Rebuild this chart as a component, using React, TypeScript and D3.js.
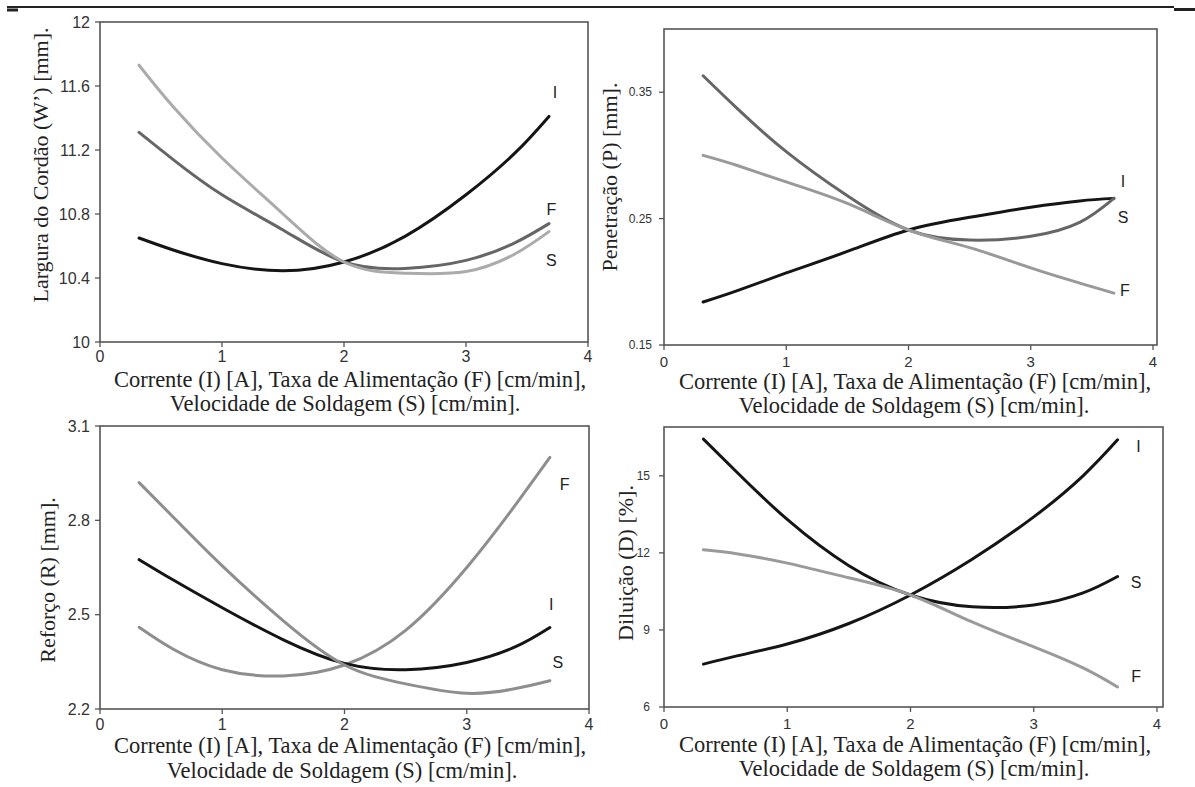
import React from "react";
import * as d3 from "d3";

// ---------- data ----------
const xLevels = [0.32, 0.6, 1, 1.5, 2, 2.5, 3, 3.4, 3.68];
const xTicks = [0, 1, 2, 3, 4];

// Largura do Cordão (W) [mm]
const widthI = [10.65, 10.575, 10.49, 10.445, 10.5, 10.66, 10.92, 11.18, 11.41];
const widthF = [11.31, 11.14, 10.92, 10.7, 10.5, 10.46, 10.51, 10.62, 10.74];
const widthS = [11.73, 11.47, 11.15, 10.8, 10.5, 10.43, 10.44, 10.55, 10.69];
const widthTicks = [10, 10.4, 10.8, 11.2, 11.6, 12];

// Penetração (P) [mm]
const penI = [0.184, 0.193, 0.207, 0.224, 0.241, 0.251, 0.259, 0.264, 0.266];
const penS = [0.363, 0.337, 0.303, 0.268, 0.241, 0.233, 0.236, 0.247, 0.266];
const penF = [0.3, 0.292, 0.279, 0.262, 0.241, 0.227, 0.211, 0.199, 0.191];
const penTicks = [0.15, 0.25, 0.35];

// Reforço (R) [mm]
const refI = [2.675, 2.61, 2.522, 2.42, 2.345, 2.325, 2.348, 2.398, 2.459];
const refF = [2.46, 2.39, 2.325, 2.305, 2.34, 2.45, 2.65, 2.85, 3.0];
const refS = [2.92, 2.81, 2.655, 2.48, 2.34, 2.28, 2.25, 2.265, 2.29];
const refTicks = [2.2, 2.5, 2.8, 3.1];

// Diluição (D) [%]
const dilI = [7.67, 8.0, 8.45, 9.25, 10.36, 11.75, 13.4, 15.0, 16.4];
const dilS = [16.43, 15.1, 13.3, 11.5, 10.36, 9.9, 9.97, 10.44, 11.08];
const dilF = [12.12, 11.96, 11.6, 11.03, 10.36, 9.31, 8.34, 7.52, 6.78];
const dilTicks = [6, 9, 12, 15];

const xTitle1 = "Corrente (I) [A], Taxa de Alimentação (F) [cm/min],";
const xTitle2 = "Velocidade de Soldagem (S) [cm/min].";

// ---------- layout ----------
const SANS = "'Liberation Sans', Arial, Helvetica, sans-serif";
const SERIF = "'Liberation Serif', 'Times New Roman', Times, serif";

type Series = { name: string; values: number[]; color: string; lx: number; ly: number };
type Panel = {
  yTitle: string;
  left: number; right: number; top: number; bottom: number; x4: number;
  yDomain: [number, number];
  yTicks: number[];
  yFont: number; yGap: number; xFont: number; xLabelDy: number;
  yTitleX: number; yTitleY: number;
  t1x: number; t1y: number; t2x: number; t2y: number;
  series: Series[];
  fmt: (v: number) => string;
};

const fmtW = (v: number) => (Number.isInteger(v) ? String(v) : v.toFixed(1));
const fmtP = (v: number) => v.toFixed(2);
const fmtR = (v: number) => v.toFixed(1);
const fmtD = (v: number) => String(v);

const panels: Panel[] = [
  {
    yTitle: "Largura do Cordão (W\u2019) [mm].",
    left: 100, right: 588, top: 22, bottom: 342, x4: 588,
    yDomain: [10, 12], yTicks: widthTicks,
    yFont: 16, yGap: 10, xFont: 16, xLabelDy: 20,
    yTitleX: 48, yTitleY: 165,
    t1x: 350, t1y: 387, t2x: 345, t2y: 411,
    fmt: fmtW,
    series: [
      { name: "I", values: widthI, color: "#151515", lx: 3.73, ly: 11.56 },
      { name: "F", values: widthF, color: "#666666", lx: 3.7, ly: 10.83 },
      { name: "S", values: widthS, color: "#ababab", lx: 3.7, ly: 10.51 },
    ],
  },
  {
    yTitle: "Penetração (P) [mm].",
    left: 664, right: 1157, top: 29, bottom: 345, x4: 1153,
    yDomain: [0.15, 0.4], yTicks: penTicks,
    yFont: 12, yGap: 12, xFont: 15, xLabelDy: 22,
    yTitleX: 617, yTitleY: 177,
    t1x: 915, t1y: 389, t2x: 914, t2y: 413,
    fmt: fmtP,
    series: [
      { name: "I", values: penI, color: "#151515", lx: 3.755, ly: 0.279 },
      { name: "S", values: penS, color: "#666666", lx: 3.755, ly: 0.251 },
      { name: "F", values: penF, color: "#999999", lx: 3.77, ly: 0.1935 },
    ],
  },
  {
    yTitle: "Reforço (R) [mm].",
    left: 100, right: 589, top: 426, bottom: 709, x4: 589,
    yDomain: [2.2, 3.1], yTicks: refTicks,
    yFont: 16, yGap: 10, xFont: 16, xLabelDy: 21,
    yTitleX: 55, yTitleY: 580,
    t1x: 350, t1y: 753, t2x: 342, t2y: 778,
    fmt: fmtR,
    series: [
      { name: "F", values: refF, color: "#8e8e8e", lx: 3.8, ly: 2.913 },
      { name: "I", values: refI, color: "#151515", lx: 3.69, ly: 2.532 },
      { name: "S", values: refS, color: "#8e8e8e", lx: 3.745, ly: 2.348 },
    ],
  },
  {
    yTitle: "Diluição (D) [%].",
    left: 664, right: 1163, top: 427, bottom: 707, x4: 1157,
    yDomain: [6, 16.9], yTicks: dilTicks,
    yFont: 12, yGap: 14, xFont: 15, xLabelDy: 22,
    yTitleX: 633, yTitleY: 563,
    t1x: 915, t1y: 752, t2x: 914, t2y: 776,
    fmt: fmtD,
    series: [
      { name: "I", values: dilI, color: "#151515", lx: 3.85, ly: 16.13 },
      { name: "S", values: dilS, color: "#151515", lx: 3.83, ly: 10.83 },
      { name: "F", values: dilF, color: "#9a9a9a", lx: 3.83, ly: 7.17 },
    ],
  },
];

function PanelView({ p }: { p: Panel }) {
  const x = d3.scaleLinear().domain([0, 4]).range([p.left, p.x4]);
  const y = d3.scaleLinear().domain(p.yDomain).range([p.bottom, p.top]);
  const line = d3
    .line<number>()
    .x((_, i) => x(xLevels[i]))
    .y((v) => y(v))
    .curve(d3.curveNatural);
  const frame = "#555";
  return (
    <g>
      <rect
        x={p.left}
        y={p.top}
        width={p.right - p.left}
        height={p.bottom - p.top}
        fill="none"
        stroke={frame}
        strokeWidth={1.6}
      />
      {p.yTicks.map((t) => (
        <g key={"y" + t}>
          <line x1={p.left - 5} x2={p.left} y1={y(t)} y2={y(t)} stroke={frame} strokeWidth={1.3} />
          <text
            x={p.left - p.yGap}
            y={y(t)}
            textAnchor="end"
            dominantBaseline="central"
            fontFamily={SANS}
            fontSize={p.yFont}
            fill="#333"
          >
            {p.fmt(t)}
          </text>
        </g>
      ))}
      {xTicks.map((t) => (
        <g key={"x" + t}>
          <line x1={x(t)} x2={x(t)} y1={p.bottom} y2={p.bottom + 5} stroke={frame} strokeWidth={1.3} />
          <text
            x={x(t)}
            y={p.bottom + p.xLabelDy}
            textAnchor="middle"
            fontFamily={SANS}
            fontSize={p.xFont}
            fill="#333"
          >
            {t}
          </text>
        </g>
      ))}
      {p.series.map((s) => (
        <path
          key={"s" + s.name}
          d={line(s.values) || ""}
          fill="none"
          stroke={s.color}
          strokeWidth={3}
          strokeLinecap="round"
          strokeLinejoin="round"
        />
      ))}
      {p.series.map((s) => (
        <text
          key={"l" + s.name}
          x={x(s.lx)}
          y={y(s.ly)}
          textAnchor="middle"
          dominantBaseline="central"
          fontFamily={SANS}
          fontSize={16}
          fill="#222"
        >
          {s.name}
        </text>
      ))}
      <text
        transform={`translate(${p.yTitleX},${p.yTitleY}) rotate(-90)`}
        textAnchor="middle"
        fontFamily={SERIF}
        fontSize={22}
        fill="#222"
      >
        {p.yTitle}
      </text>
      <text x={p.t1x} y={p.t1y} textAnchor="middle" fontFamily={SERIF} fontSize={22.5} fill="#222">
        {xTitle1}
      </text>
      <text x={p.t2x} y={p.t2y} textAnchor="middle" fontFamily={SERIF} fontSize={22.5} fill="#222">
        {xTitle2}
      </text>
    </g>
  );
}

export default function App() {
  return (
    <svg
      width={1195}
      height={787}
      viewBox="0 0 1195 787"
      style={{ position: "absolute", left: 0, top: 0, background: "#fff" }}
    >
      <rect x={0} y={0} width={1195} height={787} fill="#fff" />
      <line x1={7} x2={1174} y1={7} y2={7} stroke="#222" strokeWidth={1.8} />
      <line x1={7} x2={18} y1={10} y2={10} stroke="#222" strokeWidth={3} />
      <line x1={1174} x2={1195} y1={9.5} y2={9.5} stroke="#222" strokeWidth={3} />
      {panels.map((p, i) => (
        <PanelView key={i} p={p} />
      ))}
    </svg>
  );
}
